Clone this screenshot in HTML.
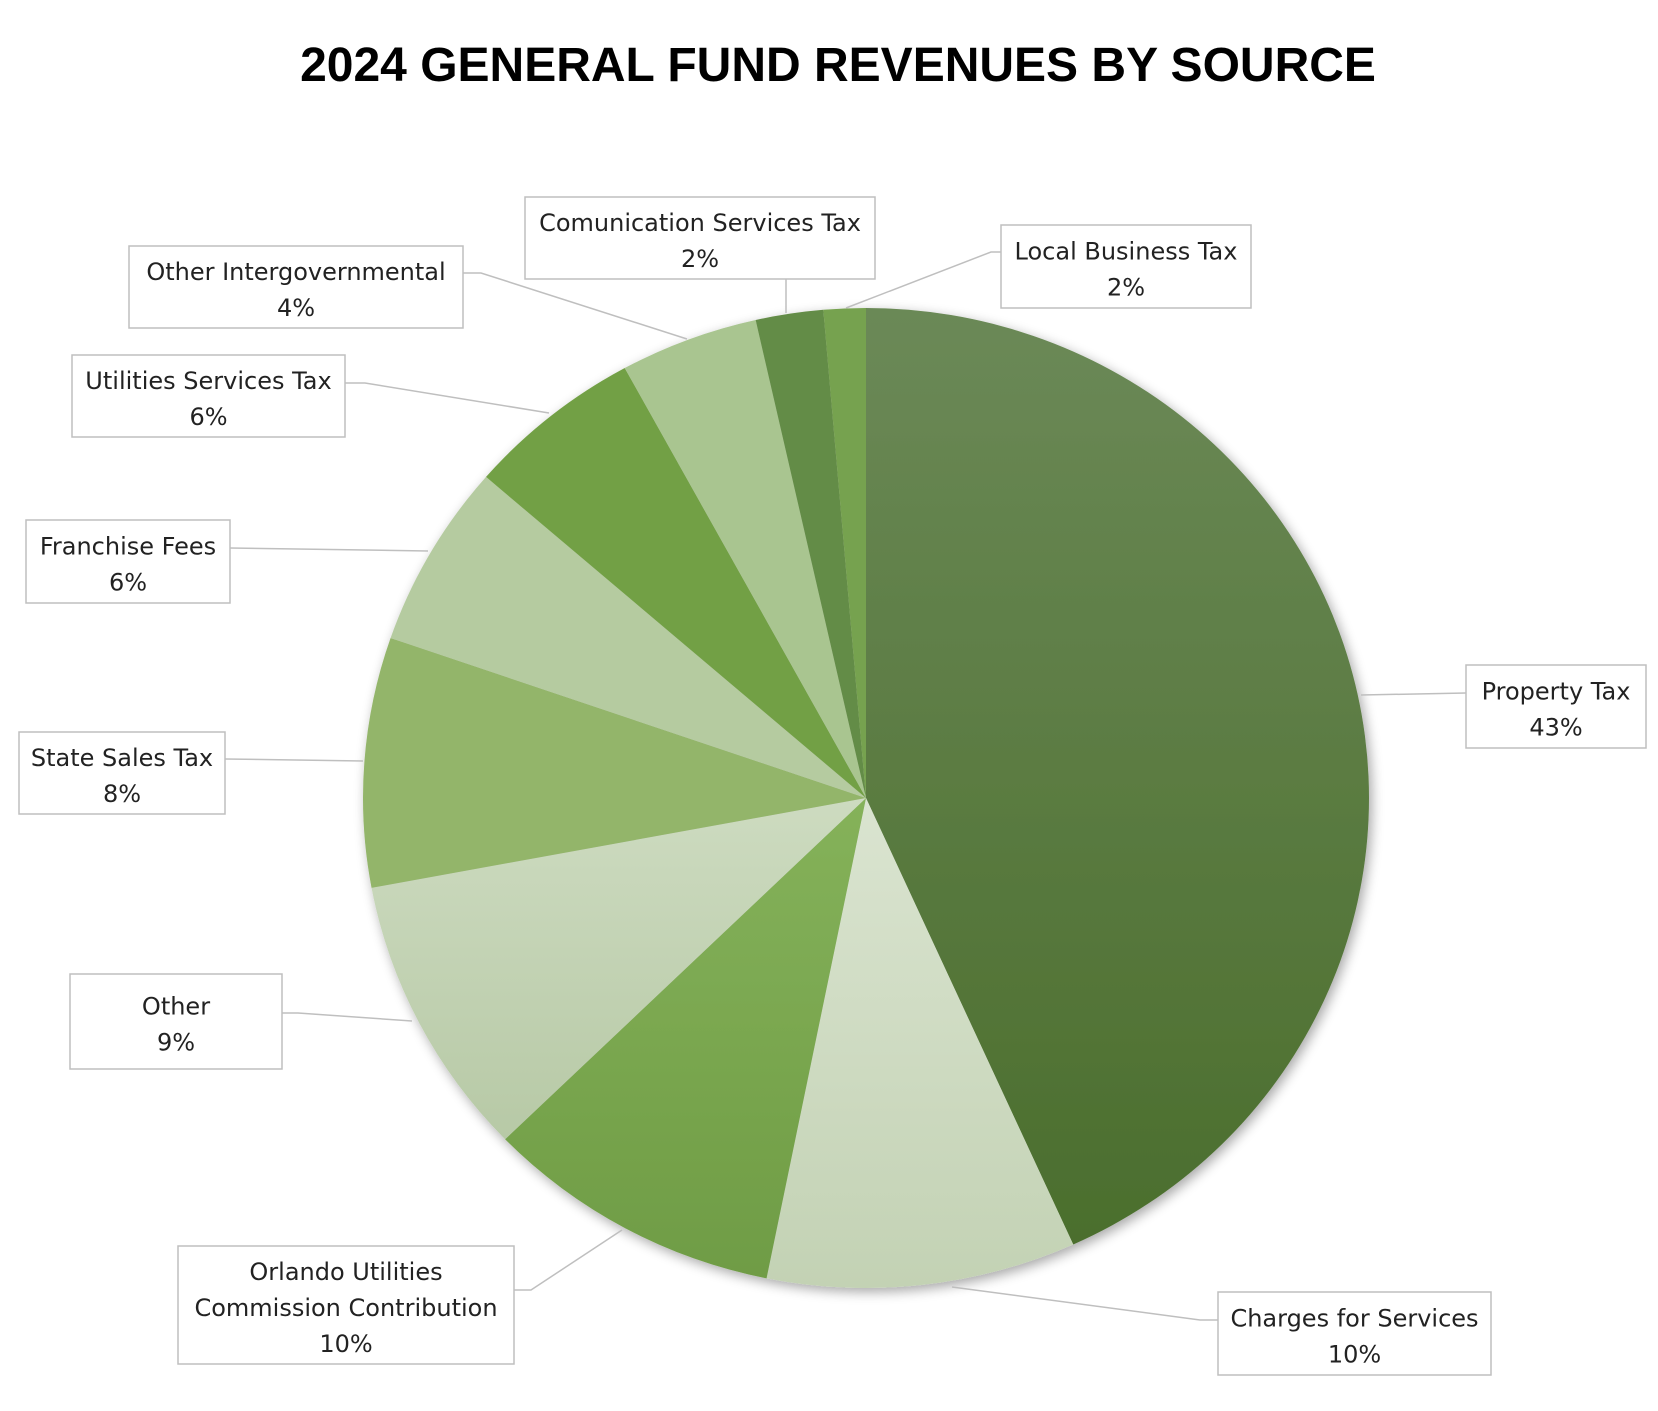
<!DOCTYPE html>
<html><head><meta charset="utf-8"><style>
body{margin:0;background:#fff;}
svg text{font-family:"DejaVu Sans","Liberation Sans",sans-serif;}
</style></head><body>
<svg id="s" width="1658" height="1406" viewBox="0 0 1658 1406" xmlns="http://www.w3.org/2000/svg">
<defs>
<linearGradient id="gp" x1="0" y1="0" x2="0" y2="1"><stop offset="0" stop-color="#6b8957"/><stop offset="1" stop-color="#4b6e2d"/></linearGradient>
<linearGradient id="gc" x1="0" y1="0" x2="0" y2="1"><stop offset="0" stop-color="#dae4d0"/><stop offset="1" stop-color="#c3d2b4"/></linearGradient>
<linearGradient id="go" x1="0" y1="0" x2="0" y2="1"><stop offset="0" stop-color="#85b25a"/><stop offset="1" stop-color="#6f9c45"/></linearGradient>
<linearGradient id="gt" x1="0" y1="0" x2="0" y2="1"><stop offset="0" stop-color="#cddbc0"/><stop offset="1" stop-color="#b7c9a6"/></linearGradient>
<filter id="sh" x="-10%" y="-10%" width="120%" height="120%"><feGaussianBlur in="SourceAlpha" stdDeviation="6"/><feOffset dx="3" dy="4"/><feComponentTransfer><feFuncA type="linear" slope="0.35"/></feComponentTransfer><feMerge><feMergeNode/><feMergeNode in="SourceGraphic"/></feMerge></filter>
</defs>
<text x="838" y="81" text-anchor="middle" style="font-family:'Liberation Sans',sans-serif;font-weight:bold;font-size:48px" fill="#000">2024 GENERAL FUND REVENUES BY SOURCE</text>
<g id="pie" filter="url(#sh)"></g>
<g id="lab" stroke="#bfbfbf" stroke-width="1.5" fill="none"></g>
<g id="txt" font-size="24" fill="#222" text-anchor="middle"></g>
</svg>
<script>
var cx=866,cy=798,rx=503,ry=490;
var ends=[0,155.1,191.7,226.6,259.7,288.6,310.2,330.7,347,355,360];
var cols=["url(#gp)","url(#gc)","url(#go)","url(#gt)","#93b56b","#b5cba0","#72a045","#a9c590","#648c46","#76a250"];
var ns="http://www.w3.org/2000/svg",pie=document.getElementById("pie");
function pt(a){a=a*Math.PI/180;var dx=Math.sin(a),dy=-Math.cos(a);var k=1/Math.sqrt(dx*dx/(rx*rx)+dy*dy/(ry*ry));return [cx+k*dx,cy+k*dy];}
for(var i=0;i<10;i++){var a=pt(ends[i]),b=pt(ends[i+1]);var large=(ends[i+1]-ends[i])>180?1:0;
var p=document.createElementNS(ns,"path");p.setAttribute("d","M"+cx+","+cy+"L"+a[0]+","+a[1]+"A"+rx+","+ry+" 0 "+large+" 1 "+b[0]+","+b[1]+"Z");p.setAttribute("fill",cols[i]);pie.appendChild(p);}
var boxes=[
[1466,665,1646,748,["Property Tax","43%"],"1361,695 1466,693"],
[1218,1292,1491,1375,["Charges for Services","10%"],"952,1287 1200,1320 1218,1320"],
[178,1246,514,1364,["Orlando Utilities","Commission Contribution","10%"],"622,1230 531,1290 514,1290"],
[70,974,282,1069,["Other","9%"],"412,1021 298,1013 282,1013"],
[19,732,225,814,["State Sales Tax","8%"],"363,761 225,759"],
[26,520,230,603,["Franchise Fees","6%"],"428,551 230,548"],
[72,355,345,437,["Utilities Services Tax","6%"],"549,413 365,383 345,383"],
[129,246,463,328,["Other Intergovernmental","4%"],"687,339 481,273 463,273"],
[525,197,875,279,["Comunication Services Tax","2%"],"786,313 786,279"],
[1001,225,1251,308,["Local Business Tax","2%"],"846,308 991,252 1001,252"]];
var lab=document.getElementById("lab"),txt=document.getElementById("txt");
boxes.forEach(function(b){
var rc=document.createElementNS(ns,"rect");rc.setAttribute("x",b[0]);rc.setAttribute("y",b[1]);rc.setAttribute("width",b[2]-b[0]);rc.setAttribute("height",b[3]-b[1]);rc.setAttribute("fill","#fff");lab.appendChild(rc);
var pl=document.createElementNS(ns,"polyline");pl.setAttribute("points",b[5]);lab.appendChild(pl);
var n=b[4].length,mid=(b[1]+b[3])/2,lh=36,y0=mid-(n-1)*lh/2+11;
b[4].forEach(function(s,k){var t=document.createElementNS(ns,"text");t.setAttribute("x",(b[0]+b[2])/2);t.setAttribute("y",y0+k*lh);t.textContent=s;txt.appendChild(t);});
});
</script>
</body></html>
